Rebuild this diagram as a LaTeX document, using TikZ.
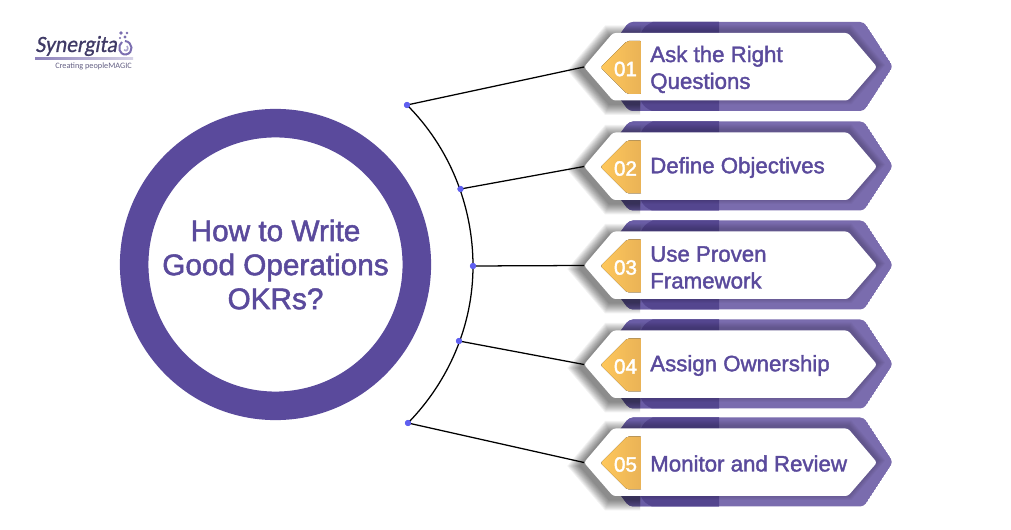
\documentclass[tikz,border=0pt]{standalone}
\usepackage{fontspec}
\setmainfont{Liberation Sans}
\newfontfamily\medf[FakeBold=1.7]{Liberation Sans}
\newfontfamily\numf[FakeBold=2.0]{Liberation Sans}
\newfontfamily\logof[FakeSlant=0.18,FakeStretch=0.93,FakeBold=0.6]{Carlito}
\newfontfamily\tagf{Carlito}
\usetikzlibrary{calc,fadings}
\definecolor{ringc}{HTML}{5A4A9C}
\definecolor{bandc}{HTML}{7A6CAE}
\definecolor{bandm}{HTML}{6A5DA6}
\definecolor{banddk}{HTML}{54468F}
\definecolor{dotc}{HTML}{5F5FF0}
\definecolor{logoc}{HTML}{3F3A66}
\definecolor{goldL}{HTML}{FFC85C}
\definecolor{goldR}{HTML}{E9B256}
\tikzset{
  x=0.75pt,y=-0.75pt,
  conn/.style={draw=black,line width=0.95pt},
  dotn/.style={circle,fill=dotc,inner sep=0pt,minimum size=4.6pt},
  labeltxt/.style={text=ringc,font=\medf\fontsize{16.7}{20.1}\selectfont,align=left,anchor=west,inner sep=0pt},
  numtxt/.style={text=white,font=\numf\fontsize{15.5}{18}\selectfont,inner sep=0pt},
  softsh/.style={fill=black,opacity=0.032},
}
\newcommand{\outerhex}{(629,-44) -- (864,-44) -- (893,0.5) -- (864,45) -- (629,45) -- (596,0.5) -- cycle}
% expanded plate outline: #1 expansion, #2,#3 offset
\newcommand{\platehex}[3]{(613-0.4*#1+#2,-33-#1+#3) -- (848+0.4*#1+#2,-33-#1+#3) -- (877+1.2*#1+#2,1+#3) -- (848+0.4*#1+#2,34.5+#1+#3) -- (613-0.4*#1+#2,34.5+#1+#3) -- (584-1.2*#1+#2,1+#3) -- cycle}
\newcommand{\banner}[5]{% name, cy, num, text, text offset
  \begin{scope}[shift={(0,#2)}]
    \begin{scope}
      \clip[rounded corners=3pt] \outerhex;
      \fill[bandc] \outerhex;
      \fill[bandm] (590,-46) rectangle (719,47);
      \fill[banddk] (719,-46) -- (660,-46) .. controls (648,-44) and (642,-38) .. (640,-30) -- (640,32) .. controls (642,40) and (648,45) .. (660,47) -- (719,47) -- cycle;
    \end{scope}
    % shadow inside the band, right of the gold edge
    \begin{scope}
      \clip[rounded corners=3pt] \outerhex;
      \clip (640,-46) rectangle (895,47);
      \foreach \o in {1,...,6}{
        \fill[softsh] \platehex{\o}{1}{-2};
      }
    \end{scope}
    % shadow to lower left, over white page
    \begin{scope}
      \clip (560,-60) rectangle (640,60);
      \foreach \o in {1,...,11}{
        \fill[softsh,opacity=0.05] \platehex{\o}{-3.5}{3.5};
      }
    \end{scope}
    \fill[white,rounded corners=2pt] \platehex{0}{0}{0};
    \fill[left color=goldL,right color=goldR,rounded corners=1.5pt]
      (627,-25) -- (642,-25) -- (642,28) -- (627,28) -- (600.5,1.5) -- cycle;
    \fill[white] (641,-25) rectangle (643,28);
    \coordinate (#1) at (584,1);
    \node[numtxt] (#1n) at (625.5,3) {#3};
    \node[labeltxt] (#1t) at (650,#5) {#4};
  \end{scope}
}
\begin{document}
\begin{tikzpicture}
\useasboundingbox (0,0) rectangle (1011,530);
\fill[white] (0,0) rectangle (1011,530);
% ring
\node[circle,draw=ringc,line width=21.4pt,minimum size=212pt,inner sep=0pt,
      text=ringc,align=center,font=\medf\fontsize{22.3}{25.5}\selectfont] (hub) at (275.5,264.5)
      {How to Write\\Good Operations\\OKRs?};
% banners
\banner{b1}{66}{01}{Ask the Right\\Questions}{3.5}
\banner{b2}{165.5}{02}{Define Objectives}{2}
\banner{b3}{264.5}{03}{Use Proven\\Framework}{3}
\banner{b4}{363.5}{04}{Assign Ownership}{2}
\banner{b5}{461.5}{05}{Monitor and Review}{2}
% dots
\node[dotn] (d1) at (407,105) {};
\node[dotn] (d2) at (460.5,189) {};
\node[dotn] (d3) at (473,266) {};
\node[dotn] (d4) at (459,341) {};
\node[dotn] (d5) at (408,423) {};
% connectors
\draw[conn] (d1.center) -- (b1);
\draw[conn] (d2.center) -- (b2);
\draw[conn] (d3.center) -- (b3);
\draw[conn] (d4.center) -- (b4);
\draw[conn] (d5.center) -- (b5);
\draw[conn] (d1.center) .. controls (449,147) and (473,205) .. (d3.center)
  .. controls (473,325) and (449,381) .. (d5.center);
\node[dotn] at (d1) {};\node[dotn] at (d2) {};\node[dotn] at (d3) {};\node[dotn] at (d4) {};\node[dotn] at (d5) {};
% logo
\node[text=logoc,font=\logof\fontsize{17.5}{20}\selectfont,inner sep=0pt,anchor=base west] (logo) at (35,52) {Synergita};
\fill[left color=ringc!70,right color=ringc!25] (35,58) rectangle (133,59.3);
\node[text=logoc!80,font=\tagf\fontsize{6.2}{8}\selectfont,inner sep=0pt,anchor=base west] (tag) at (55,69) {Creating peopleMAGIC};
\draw[ringc!80,line width=1.5pt] (125,41) .. controls (133,42) and (134,53) .. (126,54.5) .. controls (119,55) and (117,46) .. (122,42);
\draw[ringc!50,line width=1.2pt] (127,46) .. controls (129,49) and (127,52) .. (124,50);
\fill[ringc!80] (121,33) circle (1.9) (125,37) circle (1.6) (127,33) circle (1.3) (120,38) circle (1.2);
\end{tikzpicture}
\end{document}
